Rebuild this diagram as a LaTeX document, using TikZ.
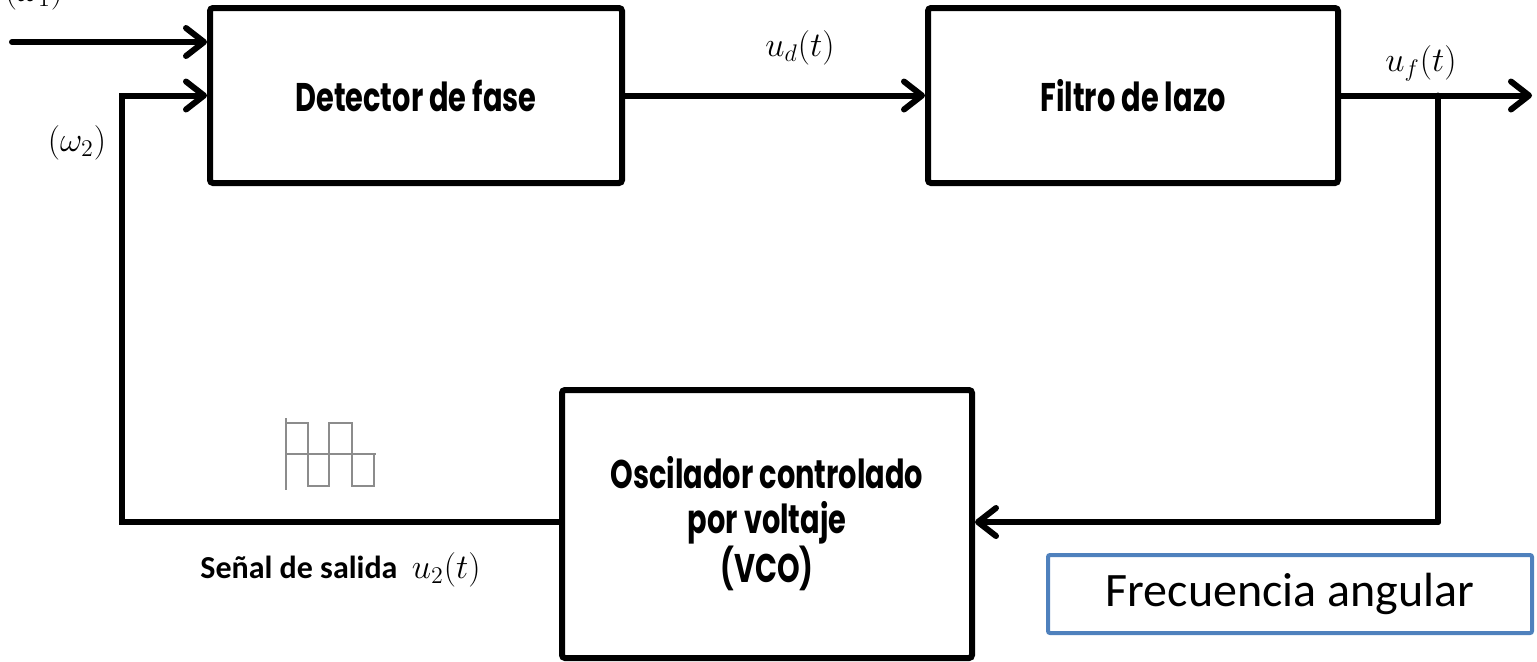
\documentclass[tikz,border=0pt]{standalone}
\usepackage{fontspec}
\usepackage{amsmath}
\usetikzlibrary{arrows.meta}
\newfontfamily\gothic{Poppins}[FakeStretch=0.72]
\newfontfamily\calib{Carlito}
\definecolor{frblue}{HTML}{4F81BD}
\definecolor{wavegray}{HTML}{8C8C8C}
\tikzset{
  blk/.style={draw=black, line width=3pt, rounded corners=1.5pt, fill=white,
    align=center, inner sep=0pt, font=\gothic\bfseries\fontsize{20}{22.5}\selectfont},
  arr/.style={line width=3pt, line cap=round, line join=miter,
    -{Straight Barb[length=9pt,width=14pt,round]}},
  wire/.style={line width=3pt, line cap=round},
  mlabel/.style={font=\fontsize{18.5}{21}\selectfont, inner sep=0pt},
  frbox/.style={draw=frblue, line width=2pt, rounded corners=1pt, inner sep=0pt,
    font=\calib\fontsize{24}{28}\selectfont},
  wave/.style={draw=wavegray, line width=0.6pt}
}
\begin{document}
\begin{tikzpicture}[x=0.5pt,y=-0.5pt]
\useasboundingbox (0,0) rectangle (1537,661);
% blocks
\node[blk, minimum width=206pt, minimum height=87.5pt] (det) at (416,95.5) {Detector de fase};
\node[blk, minimum width=205pt, minimum height=87.5pt] (fil) at (1133,95.5) {Filtro de lazo};
\node[blk, minimum width=205pt, minimum height=134pt] (vco) at (767,524) {Oscilador controlado\\por voltaje\\(VCO)};
\node[frbox, minimum width=242pt, minimum height=39pt] (freq) at (1290,594) {Frecuencia angular};
% coordinates
\coordinate (in1) at (12,42);
\coordinate (fbl) at (122,522);
\coordinate (out) at (1532,95.5);
\coordinate (tap) at (1438,95.5);
\coordinate (fbr) at (1438,522);
% connectors
\draw[arr] (in1) -- (det.west |- in1);
\draw[arr] (vco.west |- fbl) -- (fbl) |- (det.west);
\draw[arr] (det.east) -- (fil.west);
\draw[arr] (fil.east) -- (out);
\draw[wire] (tap) -- (fbr);
\draw[arr] (fbr) -- (vco.east |- fbr);
% labels
\node[mlabel] (w1) at (34,-7) {$(\omega_1)$};
\node[mlabel] (w2) at (77,143) {$(\omega_2)$};
\node[mlabel] (ud) at (800,48) {$u_d(t)$};
\node[mlabel] (uf) at (1421,63) {$u_f(t)$};
\node[anchor=west, inner sep=0pt] (sal) at (200,570) {\calib\bfseries\fontsize{16}{18}\selectfont Señal de salida\ \ \fontsize{18.5}{21}\selectfont$u_2(t)$};
% waveform
\draw[wave] (286,418) -- (286,490);
\draw[wave] (286,454) -- (376,454);
\draw[wave] (286,423) -- (308,423) -- (308,486) -- (329,486) -- (329,423) -- (352,423) -- (352,486) -- (374,486) -- (374,454);
\end{tikzpicture}
\end{document}
